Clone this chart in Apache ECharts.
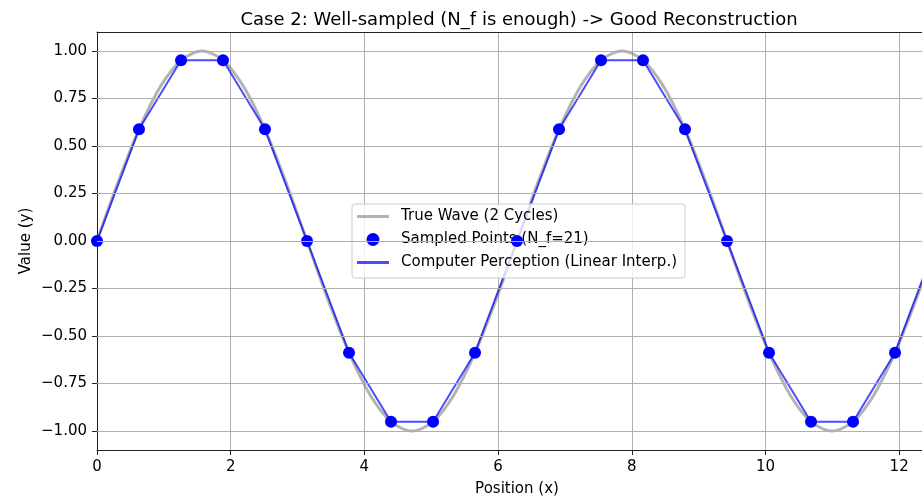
<!DOCTYPE html>
<html>
<head>
<meta charset="utf-8">
<script src="https://cdn.jsdelivr.net/npm/echarts@6/dist/echarts.min.js"></script>
<style>
  html, body { margin: 0; padding: 0; background: #fff; }
  #chart { width: 922px; height: 497px; }
</style>
</head>
<body>
<div id="chart"></div>
<script>
// true wave
var trueX = [0, 0.314, 0.628, 0.942, 1.257, 1.571, 1.885, 2.199, 2.513, 2.827,
  3.142, 3.456, 3.770, 4.084, 4.398, 4.712, 5.027, 5.341, 5.655, 5.969,
  6.283, 6.597, 6.912, 7.226, 7.540, 7.854, 8.168, 8.482, 8.796, 9.111,
  9.425, 9.739, 10.053, 10.367, 10.681, 10.996, 11.310, 11.624, 11.938, 12.252, 12.566];
var trueY = [0, 0.309, 0.588, 0.809, 0.951, 1, 0.951, 0.809, 0.588, 0.309,
  0, -0.309, -0.588, -0.809, -0.951, -1, -0.951, -0.809, -0.588, -0.309,
  0, 0.309, 0.588, 0.809, 0.951, 1, 0.951, 0.809, 0.588, 0.309,
  0, -0.309, -0.588, -0.809, -0.951, -1, -0.951, -0.809, -0.588, -0.309, 0];

// sampled points (N_f = 21)
var sampleX = [0, 0.628, 1.257, 1.885, 2.513, 3.142, 3.770, 4.398, 5.027, 5.655,
  6.283, 6.912, 7.540, 8.168, 8.796, 9.425, 10.053, 10.681, 11.310, 11.938, 12.566];
var sampleY = [0, 0.588, 0.951, 0.951, 0.588, 0, -0.588, -0.951, -0.951, -0.588,
  0, 0.588, 0.951, 0.951, 0.588, 0, -0.588, -0.951, -0.951, -0.588, 0];

var yTicks = [-1, -0.75, -0.5, -0.25, 0, 0.25, 0.5, 0.75, 1];
var xMax = 12.566;

var font = 'DejaVu Sans';
var lineIcon = 'path://M0,0 L32,0 L32,3 L0,3 Z';

function pairs(xs, ys) {
  return xs.map(function (x, i) { return [x, ys[i]]; });
}

var chart = echarts.init(document.getElementById('chart'));

chart.setOption({
  animation: false,
  textStyle: { fontFamily: font },
  title: {
    text: 'Case 2: Well-sampled (N_f is enough) -> Good Reconstruction',
    left: 514,
    textAlign: 'center',
    top: 6,
    textStyle: { fontFamily: font, fontSize: 18, fontWeight: 'normal', color: '#000' }
  },
  // the original figure is cut off on the right, so the plot runs past the canvas
  grid: { left: 97, right: -15, top: 32, bottom: 47, outerBoundsMode: 'none' },
  legend: {
    orient: 'vertical',
    left: 352, top: 204,
    padding: [5, 8, 8, 5],
    itemWidth: 32, itemHeight: 13, itemGap: 8,
    backgroundColor: 'rgba(255,255,255,0.8)',
    borderColor: '#ccc', borderWidth: 1, borderRadius: 3,
    textStyle: { fontFamily: font, fontSize: 15, color: '#000', padding: [0, 0, 0, 7] },
    data: [
      { name: 'True Wave (2 Cycles)', icon: lineIcon },
      { name: 'Sampled Points (N_f=21)', icon: 'circle' },
      { name: 'Computer Perception (Linear Interp.)', icon: lineIcon }
    ]
  },
  xAxis: [
    {
      type: 'value', min: 0, max: xMax, interval: 2,
      name: 'Position (x)', nameLocation: 'middle', nameGap: 32,
      nameTextStyle: { fontFamily: font, fontSize: 15, color: '#000' },
      axisLine: { show: true, onZero: false, lineStyle: { color: '#222' } },
      axisTick: { show: true, inside: false, length: 5, lineStyle: { color: '#222' } },
      axisLabel: {
        fontFamily: font, fontSize: 15, color: '#000', margin: 10,
        showMaxLabel: false,
        formatter: function (v) { return (Math.abs(v - Math.round(v)) < 1e-6) ? String(v) : ''; }
      },
      splitLine: { show: true, lineStyle: { color: '#b0b0b0', width: 1 } }
    },
    {
      // top spine only
      type: 'value', position: 'top', min: 0, max: xMax,
      axisLine: { show: true, onZero: false, lineStyle: { color: '#222' } },
      axisTick: { show: false }, axisLabel: { show: false }, splitLine: { show: false }
    }
  ],
  yAxis: {
    type: 'value', min: -1.1, max: 1.1,
    name: 'Value (y)', nameLocation: 'middle', nameGap: 63, nameMoveOverlap: false,
    nameTextStyle: { fontFamily: font, fontSize: 15, color: '#000' },
    axisLine: { show: true, onZero: false, lineStyle: { color: '#222' } },
    axisTick: { show: true, inside: false, length: 5, customValues: yTicks, lineStyle: { color: '#222' } },
    axisLabel: {
      fontFamily: font, fontSize: 15, color: '#000', margin: 10,
      customValues: yTicks,
      formatter: function (v) { return v.toFixed(2).replace('-', '\u2212'); }
    },
    splitLine: { show: false }
  },
  series: [
    {
      name: 'grid-y',
      type: 'line',
      data: [],
      z: 1,
      silent: true,
      markLine: {
        silent: true,
        symbol: ['none', 'none'],
        label: { show: false },
        lineStyle: { color: '#b0b0b0', width: 1, type: 'solid' },
        data: yTicks.map(function (v) { return { yAxis: v }; })
      }
    },
    {
      name: 'True Wave (2 Cycles)',
      type: 'line',
      z: 2,
      data: pairs(trueX, trueY),
      smooth: 0.3,
      showSymbol: false,
      symbol: 'none',
      color: 'rgba(128,128,128,0.6)',
      lineStyle: { color: 'rgba(128,128,128,0.6)', width: 3 }
    },
    {
      name: 'Computer Perception (Linear Interp.)',
      type: 'line',
      z: 3,
      data: pairs(sampleX, sampleY),
      showSymbol: false,
      symbol: 'none',
      color: 'rgba(0,0,255,0.7)',
      lineStyle: { color: 'rgba(0,0,255,0.7)', width: 2 }
    },
    {
      name: 'Sampled Points (N_f=21)',
      type: 'scatter',
      z: 4,
      data: pairs(sampleX, sampleY),
      symbol: 'circle',
      symbolSize: 12,
      itemStyle: { color: '#0000ff', opacity: 1 }
    }
  ]
});
</script>
</body>
</html>
